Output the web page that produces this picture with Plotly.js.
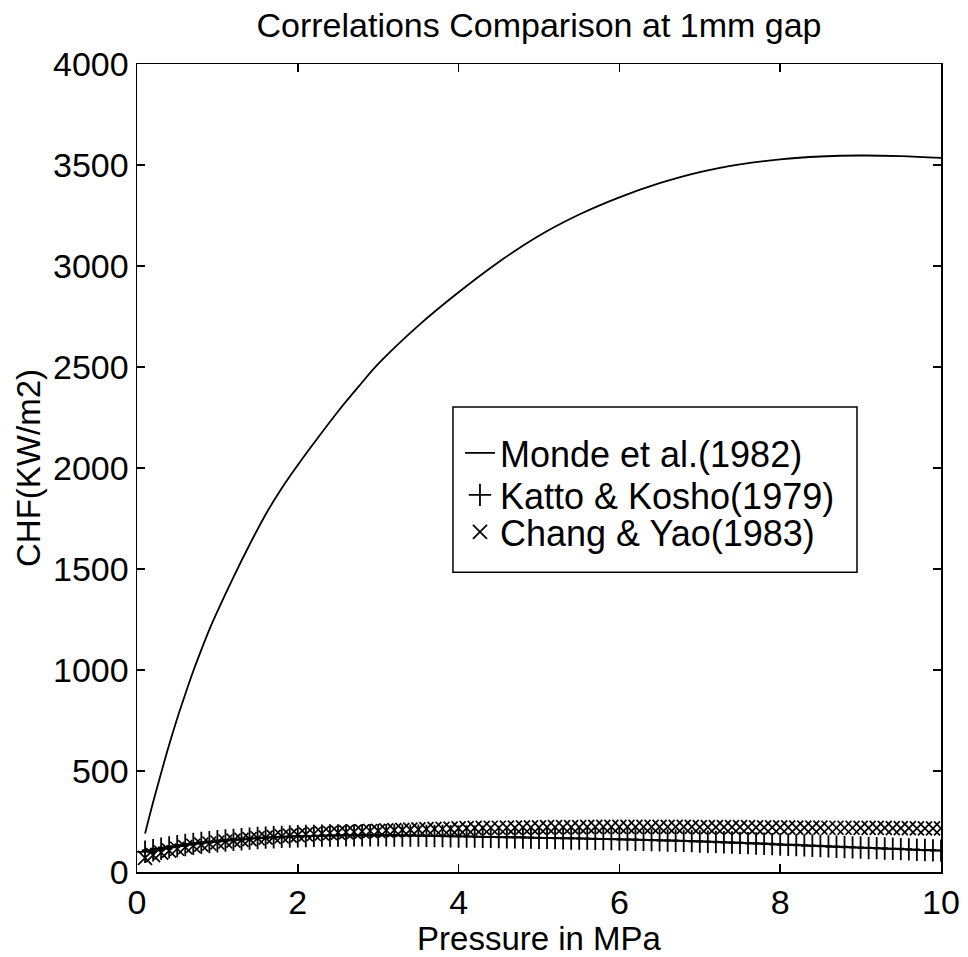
<!DOCTYPE html>
<html>
<head>
<meta charset="utf-8">
<script src="https://cdn.plot.ly/plotly-3.0.1.min.js"></script>
<style>html,body{margin:0;padding:0;background:#fff;}#chart{width:968px;height:957px;}</style>
</head>
<body>
<div id="chart"></div>
<script>
// Monde et al.(1982) - solid line
const mondeX = [0.1,0.2,0.3,0.4,0.5,0.6,0.7,0.8,0.9,1.0,1.2,1.4,1.6,1.8,2.0,2.25,2.5,2.75,3.0,3.5,4.0,4.5,5.0,5.5,6.0,6.5,7.0,7.5,8.0,8.5,9.0,9.5,10.0];
const mondeY = [190,345,490,630,760,880,995,1100,1200,1290,1460,1620,1770,1900,2015,2150,2280,2400,2515,2705,2870,3020,3150,3255,3340,3410,3465,3503,3528,3542,3547,3544,3535];

// Shared pressure grid for the marker series
const pressX = [0.1,0.2,0.3,0.4,0.5,0.6,0.7,0.8,0.9,1.0,
 1.1,1.2,1.3,1.4,1.5,1.6,1.7,1.8,1.9,2.0,
 2.1,2.2,2.3,2.4,2.5,2.6,2.7,2.8,2.9,3.0,
 3.1,3.2,3.3,3.4,3.5,3.6,3.7,3.8,3.9,4.0,
 4.1,4.2,4.3,4.4,4.5,4.6,4.7,4.8,4.9,5.0,
 5.1,5.2,5.3,5.4,5.5,5.6,5.7,5.8,5.9,6.0,
 6.1,6.2,6.3,6.4,6.5,6.6,6.7,6.8,6.9,7.0,
 7.1,7.2,7.3,7.4,7.5,7.6,7.7,7.8,7.9,8.0,
 8.1,8.2,8.3,8.4,8.5,8.6,8.7,8.8,8.9,9.0,
 9.1,9.2,9.3,9.4,9.5,9.6,9.7,9.8,9.9,10.0];

// Katto & Kosho(1979) - plus markers
const kattoY = [100,108,115,122,128,134,139,144,148,152,
 156,159,162,165,168,170,172,174,176,177,
 178,179,180,181,181,182,182,182,182,182,
 182,181,181,180,180,179,178,178,177,176,
 176,175,174,174,173,172,172,171,170,169,
 169,168,167,166,166,165,164,163,163,162,
 161,160,159,158,157,156,155,154,153,151,
 150,149,147,146,144,143,141,140,138,136,
 135,133,132,130,129,127,125,124,122,121,
 119,118,116,115,113,112,110,109,107,106];

// Chang & Yao(1983) - x markers
const changY = [70,84,96,106,115,123,130,136,141,146,
 151,155,159,163,167,170,174,177,180,183,
 186,188,191,193,195,197,199,201,203,204,
 206,207,209,210,211,212,213,214,215,216,
 217,218,218,219,219,220,220,221,221,221,
 222,222,222,222,222,223,223,223,223,223,
 223,223,223,223,223,223,223,223,223,222,
 222,222,222,222,222,222,221,221,221,221,
 221,220,220,220,220,219,219,219,219,218,
 218,218,218,217,217,217,216,216,216,216];

const seriesNames = ['Monde et al.(1982)', 'Katto & Kosho(1979)', 'Chang & Yao(1983)'];
const xTicks = [0,2,4,6,8,10];
const yTicks = [0,500,1000,1500,2000,2500,3000,3500,4000];

const FONT = 'Liberation Sans, Arial, Helvetica, sans-serif';

const traces = [
  {x: mondeX, y: mondeY, name: seriesNames[0], mode: 'lines', type: 'scatter', legend: 'legend',
   line: {color: '#000', width: 1.8, shape: 'spline'}},
  {x: pressX, y: kattoY, name: seriesNames[1], mode: 'markers', type: 'scatter', legend: 'legend2',
   marker: {symbol: 'cross-thin-open', size: 16, color: '#000', line: {color: '#000', width: 1.8}}},
  {x: pressX, y: changY, name: seriesNames[2], mode: 'markers', type: 'scatter', legend: 'legend3',
   marker: {symbol: 'x-thin-open', size: 14, color: '#000', line: {color: '#000', width: 1.7}}}
];

const axisCommon = {
  showline: true, linecolor: '#000', linewidth: 1.5, mirror: 'ticks',
  ticks: 'inside', ticklen: 8, tickwidth: 1.5, tickcolor: '#000',
  showgrid: false, zeroline: false,
  tickfont: {family: FONT, size: 34, color: '#000'}
};

const legendCommon = {xanchor: 'left', yanchor: 'middle', x: 0.4017,
  bgcolor: 'rgba(0,0,0,0)', borderwidth: 0,
  font: {family: FONT, size: 36, color: '#000'}};

const layout = {
  width: 968, height: 957,
  paper_bgcolor: '#fff', plot_bgcolor: '#fff',
  margin: {l: 137, r: 27, t: 64, b: 85},
  title: {text: 'Correlations Comparison at 1mm gap', font: {family: FONT, size: 34, color: '#000'},
          xref: 'paper', x: 0.5, xanchor: 'center', yref: 'container', y: 0.986, yanchor: 'top'},
  xaxis: Object.assign({}, axisCommon, {range: [0, 10], tickvals: xTicks, ticktext: xTicks.map(String),
    title: {text: 'Pressure in MPa', font: {family: FONT, size: 33, color: '#000'}, standoff: 4}}),
  yaxis: Object.assign({}, axisCommon, {range: [0, 4000], tickvals: yTicks, ticktext: yTicks.map(String),
    title: {text: 'CHF(KW/m2)', font: {family: FONT, size: 33, color: '#000'}, standoff: 2}}),
  showlegend: true,
  legend: Object.assign({}, legendCommon, {y: 0.5186}),
  legend2: Object.assign({}, legendCommon, {y: 0.4666}),
  legend3: Object.assign({}, legendCommon, {y: 0.4208}),
  shapes: [
    {type: 'rect', xref: 'paper', yref: 'paper', x0: 0.393, x1: 0.8955, y0: 0.371, y1: 0.5755,
     line: {color: '#000', width: 1.5}, fillcolor: 'rgba(255,255,255,1)', layer: 'above'}
  ]
};

Plotly.newPlot('chart', traces, layout, {staticPlot: true, displayModeBar: false});
</script>
</body>
</html>
